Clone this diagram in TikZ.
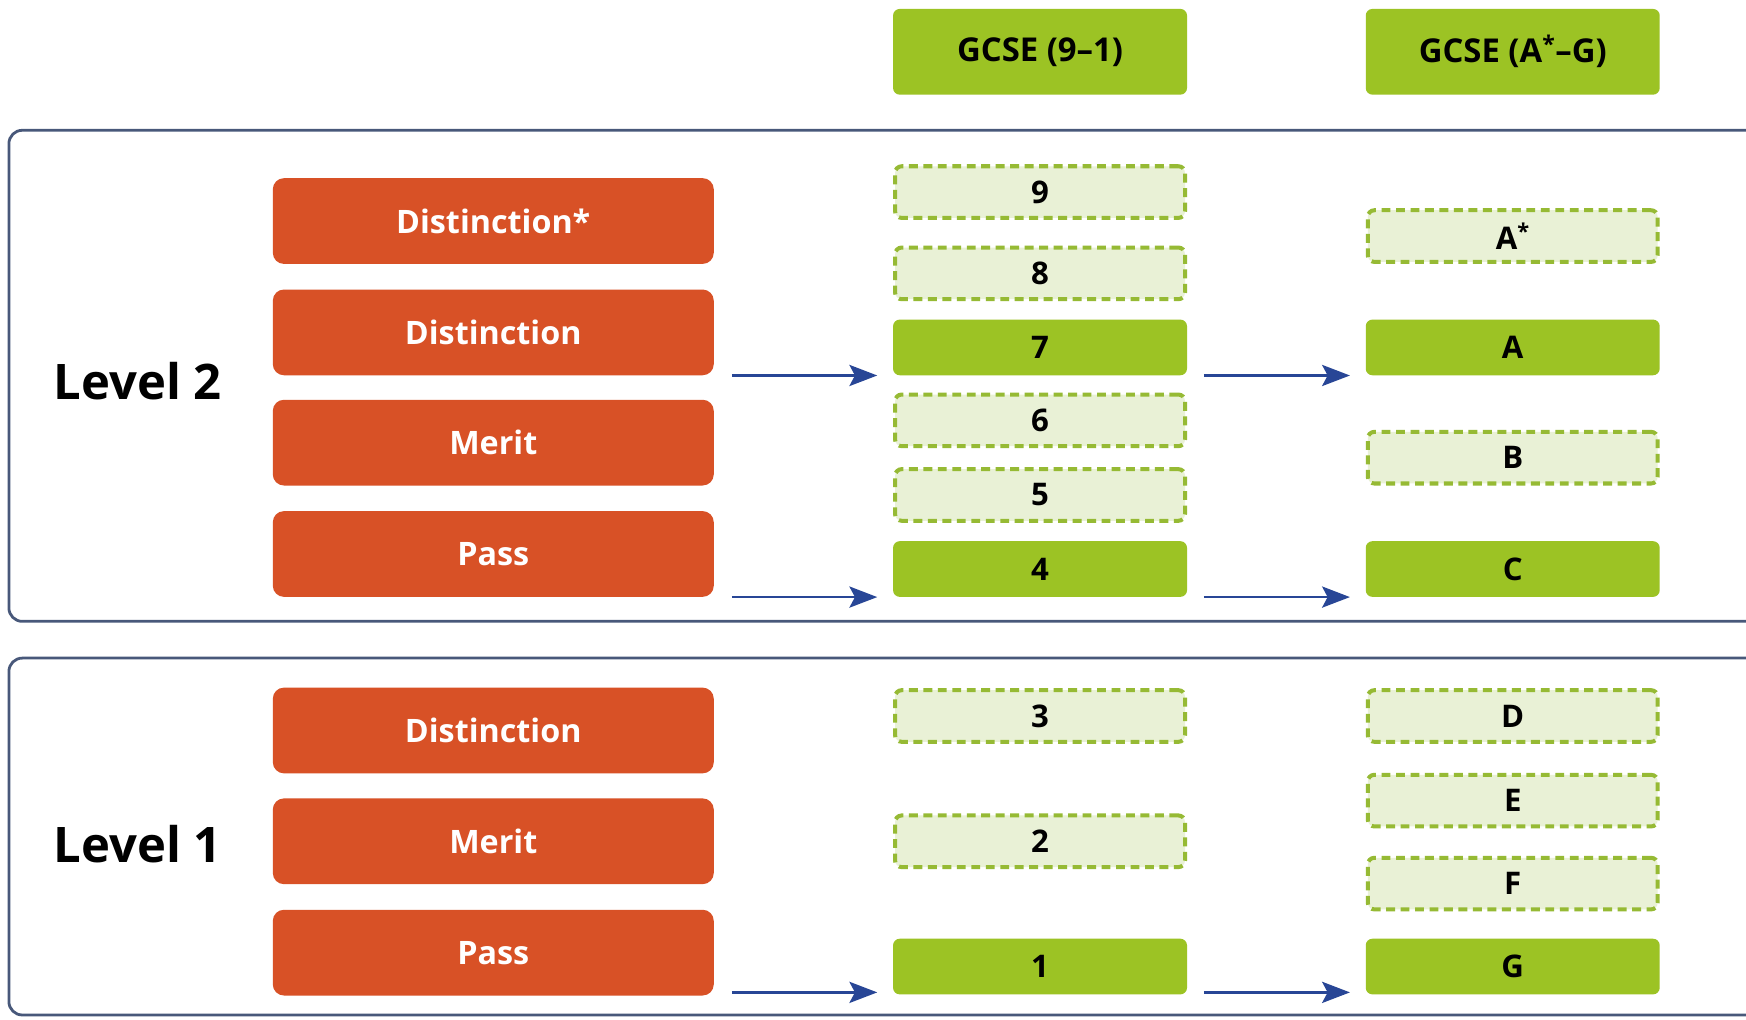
\documentclass[tikz,border=0pt]{standalone}
\usepackage{fontspec}
\setmainfont{Open Sans}
\usetikzlibrary{arrows.meta}
\definecolor{orangeb}{RGB}{216,81,38}
\definecolor{greenb}{RGB}{156,195,36}
\definecolor{lightg}{RGB}{233,241,214}
\definecolor{dashg}{RGB}{150,186,52}
\definecolor{framec}{RGB}{72,88,122}
\definecolor{arrc}{RGB}{40,70,150}
\tikzset{
  orangebox/.style={fill=orangeb, rounded corners=10pt, minimum width=396pt, minimum height=77pt,
    text=white, font=\fontsize{29}{32}\selectfont\bfseries, inner sep=0pt},
  solidbox/.style={fill=greenb, rounded corners=6pt, minimum width=264pt, minimum height=50pt,
    text=black, font=\fontsize{28}{30}\selectfont\bfseries, inner sep=0pt},
  headbox/.style={solidbox, minimum height=77pt, font=\fontsize{29.5}{32}\selectfont\bfseries},
  dashbox/.style={fill=lightg, draw=dashg, line width=3.6pt, dash pattern=on 8pt off 5pt,
    rounded corners=6pt, minimum width=260.4pt, minimum height=46.4pt,
    text=black, font=\fontsize{28}{30}\selectfont\bfseries, inner sep=0pt},
  levellabel/.style={anchor=west, inner sep=0pt, text=black, font=\fontsize{44}{48}\selectfont\bfseries},
  framebox/.style={draw=framec, line width=2.5pt, rounded corners=12pt},
  arr/.style={draw=arrc, line width=2.2pt, -{Stealth[length=25pt,width=19pt,inset=5pt]}}
}
\begin{document}
\begin{tikzpicture}[x=1pt,y=-1pt]
\useasboundingbox (0,0) rectangle (1568,916);
\clip (0,0) rectangle (1568,916);
\fill[white] (0,0) rectangle (1568,916);

% frames
\draw[framebox] (8,117) rectangle (1640,558);
\draw[framebox] (8,591) rectangle (1640,911.5);

% headers
\node[headbox] (h1) at (934,46.5) {GCSE (9–1)};
\node[headbox] (h2) at (1358.5,46.5) {GCSE (A\textsuperscript{*}–G)};

% level labels
\node[levellabel] (lv2) at (48,342) {Level 2};
\node[levellabel] (lv1) at (48,758) {Level 1};

% orange boxes level 2
\node[orangebox] (o2a) at (443,198.5) {Distinction*};
\node[orangebox] (o2b) at (443,298.5) {Distinction};
\node[orangebox] (o2c) at (443,397.5) {Merit};
\node[orangebox] (o2d) at (443,497.5) {Pass};
% orange boxes level 1
\node[orangebox] (o1a) at (443,656) {Distinction};
\node[orangebox] (o1b) at (443,755.5) {Merit};
\node[orangebox] (o1c) at (443,855.5) {Pass};

% GCSE 9-1 column
\node[dashbox] (g9) at (934,172.5) {9};
\node[dashbox] (g8) at (934,245.5) {8};
\node[solidbox] (g7) at (934,312) {7};
\node[dashbox] (g6) at (934,377.5) {6};
\node[dashbox] (g5) at (934,444.5) {5};
\node[solidbox] (g4) at (934,511) {4};
\node[dashbox] (g3) at (934,643) {3};
\node[dashbox] (g2) at (934,755.5) {2};
\node[solidbox] (g1) at (934,868) {1};

% GCSE A*-G column
\node[dashbox] (gAs) at (1358.5,212) {A\textsuperscript{*}};
\node[solidbox] (gA) at (1358.5,312) {A};
\node[dashbox] (gB) at (1358.5,411) {B};
\node[solidbox] (gC) at (1358.5,511) {C};
\node[dashbox] (gD) at (1358.5,643) {D};
\node[dashbox] (gE) at (1358.5,719) {E};
\node[dashbox] (gF) at (1358.5,793.5) {F};
\node[solidbox] (gG) at (1358.5,868) {G};

% arrows
\draw[arr] ([xshift=16pt]o2b.east |- g7.south) -- ([xshift=-14pt]g7.south west);
\draw[arr] ([xshift=16pt]o2d.east |- g4.south) -- ([xshift=-14pt]g4.south west);
\draw[arr] ([xshift=16pt,yshift=2pt]o1c.east |- g1.south) -- ([xshift=-14pt,yshift=2pt]g1.south west);
\draw[arr] ([xshift=15pt]g7.south east) -- ([xshift=-14pt]gA.south west);
\draw[arr] ([xshift=15pt]g4.south east) -- ([xshift=-14pt]gC.south west);
\draw[arr] ([xshift=15pt,yshift=2pt]g1.south east) -- ([xshift=-14pt,yshift=2pt]gG.south west);
\end{tikzpicture}
\end{document}
